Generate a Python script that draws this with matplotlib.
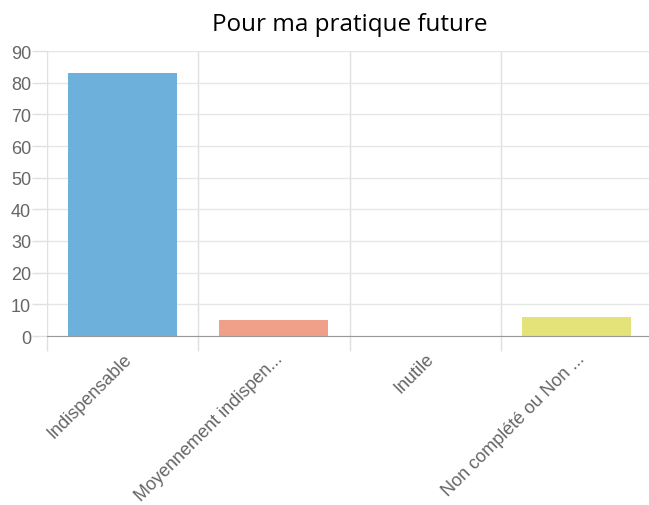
import matplotlib
matplotlib.use("Agg")
import numpy as np
import matplotlib.pyplot as plt

TITLE = "Pour ma pratique future"
categories = ["Indispensable", "Moyennement indispen...", "Inutile", "Non complété ou Non ..."]
values = [83, 5, 0, 6]
colors = ["#6EB0DC", "#F0A088", "#FFFFFF", "#E3E37A"]
y_ticks = [0, 10, 20, 30, 40, 50, 60, 70, 80, 90]

plt.rcParams["font.family"] = ["Liberation Sans", "DejaVu Sans"]

fig = plt.figure(figsize=(6.49, 5.06), dpi=100)
ax = fig.add_axes([47 / 649, 1 - 337 / 506, 1 - 47 / 649, (337 - 52) / 506])

x = np.arange(len(categories))
ax.bar(x, values, width=0.72, color=colors, zorder=3)

# last band is slightly cut off at the right edge
ax.set_xlim(-0.5, len(categories) - 0.52)
ax.set_ylim(0, 90)

# grid lines at category boundaries, labels at centres
ax.set_xticks(np.arange(len(categories)) - 0.5)
ax.set_xticklabels([])
ax.set_xticks(x, minor=True)
ax.set_xticklabels(categories, minor=True, rotation=45, ha="right",
                   rotation_mode="anchor", color="#666666", fontsize=13)
ax.tick_params(axis="x", which="major", length=10.5, color="#e0e0e0", width=1)
ax.tick_params(axis="x", which="minor", length=0, pad=10)
ax.grid(axis="x", which="major", color="#e0e0e0", linewidth=1, zorder=0)

ax.set_yticks(y_ticks)
ax.tick_params(axis="y", length=10.5, color="#e0e0e0", width=1, labelsize=13,
               labelcolor="#666666", pad=1)
ax.grid(axis="y", color="#e6e6e6", linewidth=1, zorder=0)

for s in ["top", "right", "left"]:
    ax.spines[s].set_visible(False)
ax.spines["bottom"].set_color("#999999")
ax.spines["bottom"].set_zorder(4)

fig.text(350 / 649, 1 - 31 / 506, TITLE, ha="center", va="baseline",
         fontsize=17.5, family=["Open Sans", "DejaVu Sans"], color="black")

fig.savefig("out.png", dpi=100)
